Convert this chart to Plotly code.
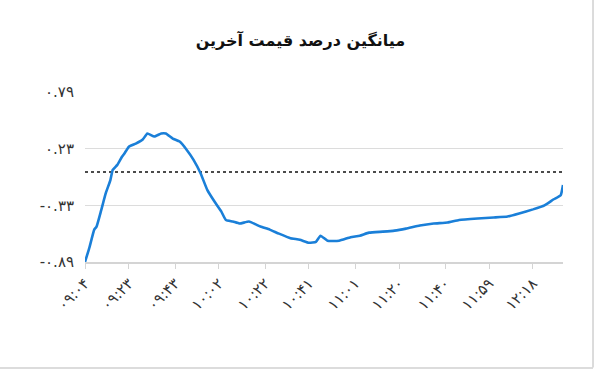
import plotly.graph_objects as go

# ---- data ----
times = ["09:04", "09:06", "09:08", "09:09", "09:11", "09:13", "09:15", "09:16", "09:18",
         "09:20", "09:21", "09:23", "09:26", "09:29", "09:31", "09:34", "09:37", "09:39",
         "09:42", "09:45", "09:48", "09:51", "09:54", "09:57", "10:00", "10:03", "10:05",
         "10:08", "10:11", "10:15", "10:20", "10:24", "10:28", "10:33", "10:37", "10:41",
         "10:44", "10:46", "10:49", "10:54", "10:59", "11:03", "11:07", "11:13", "11:18",
         "11:23", "11:29", "11:35", "11:41", "11:46", "11:54", "12:01", "12:07", "12:12",
         "12:18", "12:23", "12:27", "12:30", "12:31"]
values = [-0.89, -0.74, -0.57, -0.54, -0.38, -0.21, -0.08, 0.02, 0.07,
          0.15, 0.18, 0.25, 0.28, 0.32, 0.38, 0.35, 0.38, 0.38,
          0.33, 0.30, 0.22, 0.12, -0.01, -0.18, -0.29, -0.39, -0.475,
          -0.49, -0.51, -0.49, -0.54, -0.57, -0.61, -0.655, -0.67, -0.70,
          -0.69, -0.63, -0.68, -0.68, -0.645, -0.63, -0.60, -0.59, -0.58,
          -0.56, -0.53, -0.51, -0.50, -0.475, -0.46, -0.45, -0.44, -0.41,
          -0.37, -0.33, -0.27, -0.23, -0.13]
tick_times = ["09:04", "09:23", "09:43", "10:02", "10:22", "10:41",
              "11:01", "11:20", "11:40", "11:59", "12:18"]
y_ticks = [0.79, 0.23, -0.33, -0.89]
reference_level = 0.0
title_text = "میانگین درصد قیمت آخرین"

PERSIAN = str.maketrans("0123456789", "۰۱۲۳۴۵۶۷۸۹")


def to_min(t):
    h, m = t.split(":")
    return int(h) * 60 + int(m) - (9 * 60 + 4)


x = [to_min(t) for t in times]
tick_x = [to_min(t) for t in tick_times]
tick_txt = [t.translate(PERSIAN) for t in tick_times]
y_txt = ["\u200e" + ("-" if v < 0 else "") + f"{abs(v):.2f}".translate(PERSIAN) for v in y_ticks]

fig = go.Figure()
fig.add_trace(go.Scatter(x=[x[0], x[-1]], y=[reference_level, reference_level], mode="lines",
                         line=dict(color="#111", width=1.6, dash="dot"),
                         hoverinfo="skip", showlegend=False))
fig.add_trace(go.Scatter(x=x, y=values, mode="lines",
                         line=dict(color="#1a7fd8", width=2.6, shape="spline", smoothing=0.4),
                         showlegend=False))

fig.update_layout(
    width=595, height=370,
    margin=dict(l=85, r=32, t=92, b=108),
    paper_bgcolor="white", plot_bgcolor="white",
    font=dict(family="DejaVu Sans, Noto Sans, sans-serif", color="#444"),
    title=dict(text="<b>" + title_text + "</b>", x=0.505, xanchor="center",
               y=1 - 40 / 370, yanchor="middle",
               font=dict(size=16, color="#111", family="DejaVu Sans, Noto Sans, sans-serif")),
    xaxis=dict(range=[0, x[-1]], tickmode="array", tickvals=tick_x, ticktext=tick_txt,
               tickangle=-45, showgrid=False, zeroline=False,
               showline=True, linecolor="#d4d4d4", linewidth=1.5,
               ticks="outside", ticklen=5, tickcolor="#d4d4d4",
               tickfont=dict(size=15, color="#333")),
    yaxis=dict(range=[y_ticks[-1], y_ticks[0]], tickmode="array", tickvals=y_ticks,
               ticktext=y_txt, showgrid=True, gridcolor="#dcdcdc", gridwidth=1,
               zeroline=False, showline=False, ticks="", ticklabelstandoff=10,
               tickfont=dict(size=15, color="#333")),
    shapes=[
        dict(type="line", xref="paper", yref="paper", x0=1.0628, x1=1.0628, y0=1.55, y1=-0.62,
             line=dict(color="#d0d0d0", width=1.5)),
        dict(type="line", xref="paper", yref="paper", x0=-0.18, x1=1.0628, y0=-0.6235, y1=-0.6235,
             line=dict(color="#d0d0d0", width=1.5)),
    ],
)

fig.write_html("out.html")
